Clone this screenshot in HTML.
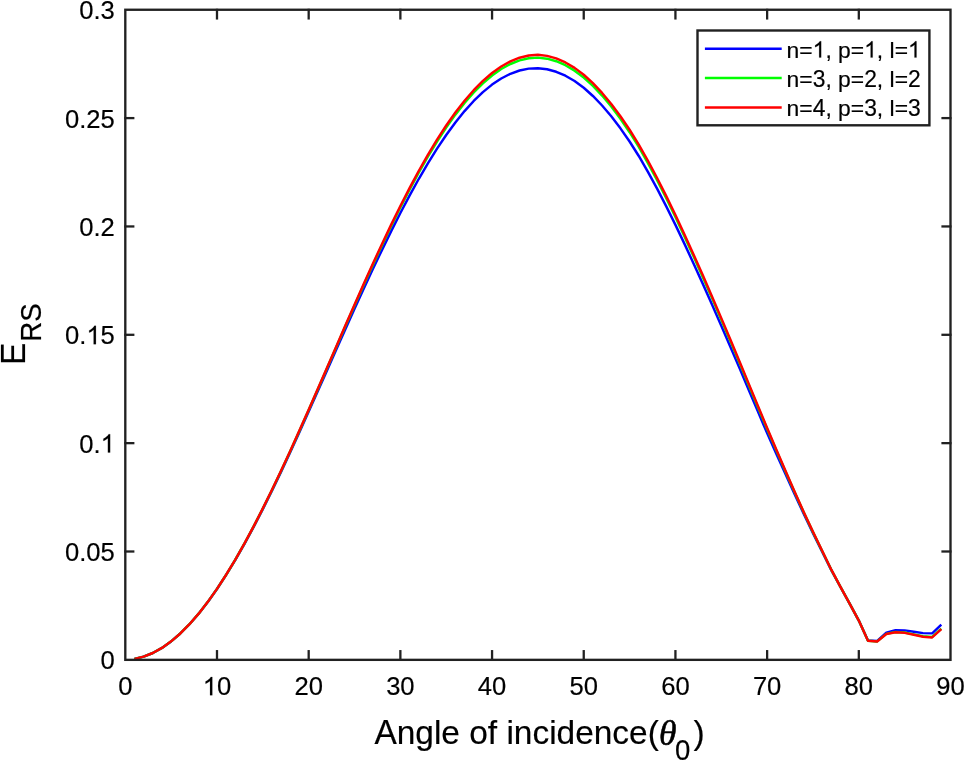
<!DOCTYPE html>
<html><head><meta charset="utf-8"><title>E_RS vs angle of incidence</title>
<style>html,body{margin:0;padding:0;background:#fff;}body{width:964px;height:761px;overflow:hidden;}svg{display:block;will-change:transform;}text{font-family:"Liberation Sans",sans-serif;fill:#000;stroke:#000;stroke-width:0.18px;font-kerning:none;white-space:pre;}.g{fill:#000;stroke:#000;stroke-width:14;}</style></head><body>
<svg width="964" height="761" viewBox="0 0 964 761">
<rect x="0" y="0" width="964" height="761" fill="#ffffff"/>
<g fill="none" stroke-width="2.45" stroke-linejoin="round" stroke-linecap="butt">
<path d="M134.47 658.86 L143.64 656.66 L152.81 653.00 L161.98 647.89 L171.14 641.38 L180.31 633.49 L189.48 624.25 L198.65 613.72 L207.82 601.95 L216.99 588.99 L226.16 574.95 L235.33 559.86 L244.50 543.80 L253.66 526.86 L262.83 509.12 L272.00 490.67 L281.17 471.60 L290.34 451.99 L299.51 431.96 L308.68 411.60 L317.85 391.08 L327.02 370.45 L336.18 349.81 L345.35 329.24 L354.52 308.87 L363.69 288.79 L372.86 269.09 L382.03 249.87 L391.20 231.09 L400.37 212.95 L409.54 195.57 L418.70 179.01 L427.87 163.36 L437.04 148.69 L446.21 135.02 L455.38 122.47 L464.55 111.10 L473.72 100.96 L482.89 92.10 L492.06 84.58 L501.22 78.48 L510.39 73.78 L519.56 70.50 L528.73 68.64 L537.90 68.23 L547.07 69.28 L556.24 71.78 L565.41 75.70 L574.58 81.04 L583.74 87.75 L592.91 95.97 L602.08 105.50 L611.25 116.30 L620.42 128.33 L629.59 141.52 L638.76 155.98 L647.93 171.84 L657.10 188.66 L666.26 206.37 L675.43 224.89 L684.60 244.13 L693.77 263.94 L702.94 284.12 L712.11 304.75 L721.28 325.73 L730.45 346.95 L739.62 368.37 L748.78 390.01 L757.95 411.61 L767.12 433.06 L776.29 453.65 L785.46 474.03 L794.63 494.28 L803.80 513.98 L812.97 533.10 L822.14 551.59 L831.30 570.15 L840.47 587.01 L849.64 603.66 L858.81 620.59 L867.98 640.53 L877.15 640.96 L886.32 632.73 L895.49 630.28 L904.66 630.41 L913.82 631.75 L922.99 633.12 L932.16 633.38 L941.33 624.62" stroke="#0000ff"/>
<path d="M134.47 658.86 L143.64 656.66 L152.81 652.99 L161.98 647.89 L171.14 641.37 L180.31 633.46 L189.48 624.21 L198.65 613.66 L207.82 601.87 L216.99 588.88 L226.16 574.77 L235.33 559.61 L244.50 543.46 L253.66 526.42 L262.83 508.55 L272.00 489.95 L281.17 470.71 L290.34 450.93 L299.51 430.69 L308.68 410.10 L317.85 389.28 L327.02 368.32 L336.18 347.30 L345.35 326.35 L354.52 305.56 L363.69 285.03 L372.86 264.87 L382.03 245.16 L391.20 225.98 L400.37 207.45 L409.54 189.66 L418.70 172.69 L427.87 156.63 L437.04 141.56 L446.21 127.53 L455.38 114.63 L464.55 102.91 L473.72 92.45 L482.89 83.28 L492.06 75.45 L501.22 69.02 L510.39 63.99 L519.56 60.41 L528.73 58.28 L537.90 57.61 L547.07 58.69 L556.24 61.23 L565.41 65.22 L574.58 70.65 L583.74 77.49 L592.91 85.85 L602.08 95.55 L611.25 106.55 L620.42 118.79 L629.59 132.22 L638.76 146.93 L647.93 163.08 L657.10 180.21 L666.26 198.23 L675.43 217.08 L684.60 236.67 L693.77 256.83 L702.94 277.38 L712.11 298.38 L721.28 319.73 L730.45 341.34 L739.62 363.14 L748.78 385.17 L757.95 407.16 L767.12 428.99 L776.29 450.37 L785.46 471.45 L794.63 492.31 L803.80 512.54 L812.97 532.11 L822.14 550.95 L831.30 569.80 L840.47 586.86 L849.64 603.66 L858.81 620.59 L867.98 640.76 L877.15 641.42 L886.32 633.89 L895.49 632.05 L904.66 632.55 L913.82 634.37 L922.99 636.32 L932.16 636.95 L941.33 628.53" stroke="#00ff00"/>
<path d="M134.47 658.86 L143.64 656.66 L152.81 652.99 L161.98 647.89 L171.14 641.36 L180.31 633.46 L189.48 624.20 L198.65 613.65 L207.82 601.85 L216.99 588.85 L226.16 574.73 L235.33 559.54 L244.50 543.37 L253.66 526.30 L262.83 508.40 L272.00 489.76 L281.17 470.48 L290.34 450.64 L299.51 430.35 L308.68 409.71 L317.85 388.81 L327.02 367.75 L336.18 346.64 L345.35 325.59 L354.52 304.68 L363.69 284.04 L372.86 263.75 L382.03 243.91 L391.20 224.63 L400.37 205.99 L409.54 188.09 L418.70 171.02 L427.87 154.85 L437.04 139.66 L446.21 125.54 L455.38 112.54 L464.55 100.74 L473.72 90.19 L482.89 80.93 L492.06 73.03 L501.22 66.50 L510.39 61.40 L519.56 57.73 L528.73 55.53 L537.90 54.79 L547.07 55.87 L556.24 58.43 L565.41 62.44 L574.58 67.89 L583.74 74.76 L592.91 83.16 L602.08 92.91 L611.25 103.96 L620.42 116.26 L629.59 129.75 L638.76 144.54 L647.93 160.76 L657.10 177.96 L666.26 196.08 L675.43 215.01 L684.60 234.69 L693.77 254.95 L702.94 275.59 L712.11 296.69 L721.28 318.14 L730.45 339.85 L739.62 361.75 L748.78 383.89 L757.95 405.98 L767.12 427.91 L776.29 449.50 L785.46 470.77 L794.63 491.79 L803.80 512.16 L812.97 531.84 L822.14 550.78 L831.30 569.70 L840.47 586.83 L849.64 603.66 L858.81 620.59 L867.98 640.79 L877.15 641.48 L886.32 634.05 L895.49 632.30 L904.66 632.84 L913.82 634.72 L922.99 636.76 L932.16 637.43 L941.33 629.07" stroke="#ff0000"/>
</g>
<g stroke="#212121" stroke-width="2.3" fill="none">
<line x1="216.99" y1="660.85" x2="216.99" y2="650.05"/>
<line x1="216.99" y1="8.75" x2="216.99" y2="19.55"/>
<line x1="308.68" y1="660.85" x2="308.68" y2="650.05"/>
<line x1="308.68" y1="8.75" x2="308.68" y2="19.55"/>
<line x1="400.37" y1="660.85" x2="400.37" y2="650.05"/>
<line x1="400.37" y1="8.75" x2="400.37" y2="19.55"/>
<line x1="492.06" y1="660.85" x2="492.06" y2="650.05"/>
<line x1="492.06" y1="8.75" x2="492.06" y2="19.55"/>
<line x1="583.74" y1="660.85" x2="583.74" y2="650.05"/>
<line x1="583.74" y1="8.75" x2="583.74" y2="19.55"/>
<line x1="675.43" y1="660.85" x2="675.43" y2="650.05"/>
<line x1="675.43" y1="8.75" x2="675.43" y2="19.55"/>
<line x1="767.12" y1="660.85" x2="767.12" y2="650.05"/>
<line x1="767.12" y1="8.75" x2="767.12" y2="19.55"/>
<line x1="858.81" y1="660.85" x2="858.81" y2="650.05"/>
<line x1="858.81" y1="8.75" x2="858.81" y2="19.55"/>
<line x1="124.30" y1="551.50" x2="134.40" y2="551.50"/>
<line x1="951.50" y1="551.50" x2="941.40" y2="551.50"/>
<line x1="124.30" y1="443.15" x2="134.40" y2="443.15"/>
<line x1="951.50" y1="443.15" x2="941.40" y2="443.15"/>
<line x1="124.30" y1="334.80" x2="134.40" y2="334.80"/>
<line x1="951.50" y1="334.80" x2="941.40" y2="334.80"/>
<line x1="124.30" y1="226.45" x2="134.40" y2="226.45"/>
<line x1="951.50" y1="226.45" x2="941.40" y2="226.45"/>
<line x1="124.30" y1="118.10" x2="134.40" y2="118.10"/>
<line x1="951.50" y1="118.10" x2="941.40" y2="118.10"/>
</g>
<rect x="125.30" y="9.75" width="825.20" height="650.10" fill="none" stroke="#212121" stroke-width="2.35"/>
<text transform="translate(118.18,695.30) scale(1,1.040)" font-size="25.60">0</text>
<path transform="translate(202.75,695.30) scale(0.01250,-0.01250)" d="M763 0H583V1147Q518 1085 412.5 1023T223 930V1104Q373 1174.5 485 1275T644 1469H763Z" class="g"/><text transform="translate(216.99,695.30) scale(1,1.040)" font-size="25.60">0</text>
<text transform="translate(294.44,695.30) scale(1,1.040)" font-size="25.60">20</text>
<text transform="translate(386.13,695.30) scale(1,1.040)" font-size="25.60">30</text>
<text transform="translate(477.82,695.30) scale(1,1.040)" font-size="25.60">40</text>
<text transform="translate(569.51,695.30) scale(1,1.040)" font-size="25.60">50</text>
<text transform="translate(661.20,695.30) scale(1,1.040)" font-size="25.60">60</text>
<text transform="translate(752.88,695.30) scale(1,1.040)" font-size="25.60">70</text>
<text transform="translate(844.57,695.30) scale(1,1.040)" font-size="25.60">80</text>
<text transform="translate(936.26,695.30) scale(1,1.040)" font-size="25.60">90</text>
<text transform="translate(100.61,669.25) scale(1,1.040)" font-size="25.60">0</text>
<text transform="translate(65.02,560.90) scale(1,1.040)" font-size="25.60">0.05</text>
<text transform="translate(79.26,452.55) scale(1,1.040)" font-size="25.60">0.</text><path transform="translate(100.61,452.55) scale(0.01250,-0.01250)" d="M763 0H583V1147Q518 1085 412.5 1023T223 930V1104Q373 1174.5 485 1275T644 1469H763Z" class="g"/>
<text transform="translate(65.02,344.20) scale(1,1.040)" font-size="25.60">0.</text><path transform="translate(86.37,344.20) scale(0.01250,-0.01250)" d="M763 0H583V1147Q518 1085 412.5 1023T223 930V1104Q373 1174.5 485 1275T644 1469H763Z" class="g"/><text transform="translate(100.61,344.20) scale(1,1.040)" font-size="25.60">5</text>
<text transform="translate(79.26,235.85) scale(1,1.040)" font-size="25.60">0.2</text>
<text transform="translate(65.02,127.50) scale(1,1.040)" font-size="25.60">0.25</text>
<text transform="translate(79.26,19.15) scale(1,1.040)" font-size="25.60">0.3</text>
<text transform="translate(374.40,743.80) scale(1,1.040)" font-size="33.45">A</text><text transform="translate(396.71,743.80) scale(1,1.000)" font-size="33.45">ngle of incidence(</text>
<text x="659.1" y="744.5" font-family="Liberation Serif" font-style="italic" font-size="35.5" style="font-family:'Liberation Serif',serif;stroke-width:0.55px">θ</text>
<text transform="translate(675.1,760.35) scale(1,1.040)" font-size="27.60">0</text>
<text x="693.5" y="743.8" font-size="33.45">)</text>
<text transform="translate(24.65,365) rotate(-90) scale(1,1.040)" font-size="33.45">E<tspan font-size="27.60" dy="15.7" dx="1">RS</tspan></text>
<rect x="697.50" y="30.50" width="231.90" height="94.80" fill="#ffffff" stroke="#212121" stroke-width="2.4"/>
<line x1="704.9" y1="48.80" x2="781.7" y2="48.80" stroke="#0000ff" stroke-width="2.45"/>
<text transform="translate(786.60,57.60) scale(1,1.000)" font-size="22.86">n=</text><path transform="translate(812.66,57.60) scale(0.01116,-0.01116)" d="M763 0H583V1147Q518 1085 412.5 1023T223 930V1104Q373 1174.5 485 1275T644 1469H763Z" class="g"/><text transform="translate(825.38,57.60) scale(1,1.000)" font-size="22.86">, p=</text><path transform="translate(864.14,57.60) scale(0.01116,-0.01116)" d="M763 0H583V1147Q518 1085 412.5 1023T223 930V1104Q373 1174.5 485 1275T644 1469H763Z" class="g"/><text transform="translate(876.86,57.60) scale(1,1.000)" font-size="22.86">, l=</text><path transform="translate(907.99,57.60) scale(0.01116,-0.01116)" d="M763 0H583V1147Q518 1085 412.5 1023T223 930V1104Q373 1174.5 485 1275T644 1469H763Z" class="g"/>
<line x1="704.9" y1="78.00" x2="781.7" y2="78.00" stroke="#00ff00" stroke-width="2.45"/>
<text transform="translate(786.60,86.80) scale(1,1.000)" font-size="22.86">n=</text><text transform="translate(812.66,86.80) scale(1,1.040)" font-size="22.86">3</text><text transform="translate(825.38,86.80) scale(1,1.000)" font-size="22.86">, p=</text><text transform="translate(864.14,86.80) scale(1,1.040)" font-size="22.86">2</text><text transform="translate(876.86,86.80) scale(1,1.000)" font-size="22.86">, l=</text><text transform="translate(907.99,86.80) scale(1,1.040)" font-size="22.86">2</text>
<line x1="704.9" y1="107.50" x2="781.7" y2="107.50" stroke="#ff0000" stroke-width="2.45"/>
<text transform="translate(786.60,116.30) scale(1,1.000)" font-size="22.86">n=</text><text transform="translate(812.66,116.30) scale(1,1.040)" font-size="22.86">4</text><text transform="translate(825.38,116.30) scale(1,1.000)" font-size="22.86">, p=</text><text transform="translate(864.14,116.30) scale(1,1.040)" font-size="22.86">3</text><text transform="translate(876.86,116.30) scale(1,1.000)" font-size="22.86">, l=</text><text transform="translate(907.99,116.30) scale(1,1.040)" font-size="22.86">3</text>
</svg></body></html>
